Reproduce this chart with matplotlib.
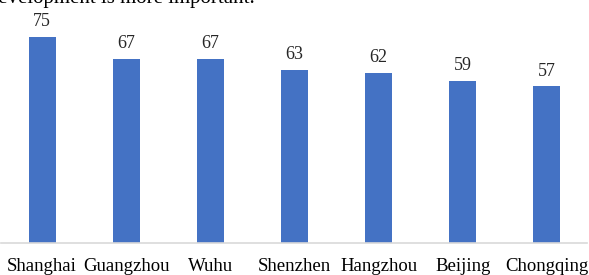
import matplotlib.pyplot as plt

ciudades = ["Shanghai", "Guangzhou", "Wuhu", "Shenzhen", "Hangzhou", "Beijing", "Chongqing"]
valores = [75, 67, 67, 63, 62, 59, 57]
titulo = "Development is more important."

plt.rcParams['font.family'] = ['Liberation Serif', 'DejaVu Serif']

fig = plt.figure(figsize=(5.89, 2.75), dpi=100)
# ejes ocupando casi todo el ancho, base en y=243 px
ax = fig.add_axes([0.0, (275 - 243) / 275, 1.0, 243 / 275])

x = range(len(ciudades))
barras = ax.bar(x, valores, width=0.32, color='#4472C4')
ax.set_xlim(-0.5, len(ciudades) - 0.5)
ax.set_ylim(0, 88.5)

for xi, v in zip(x, valores):
    ax.text(xi, v + 4.0, str(v), ha='center', va='baseline', fontsize=13, color='#262626')

ax.set_xticks(list(x))
ax.set_xticklabels(ciudades, fontsize=13.5, color='black')
ax.tick_params(axis='x', length=0, pad=11)
ax.set_yticks([])
for lado in ['top', 'right', 'left']:
    ax.spines[lado].set_visible(False)
ax.spines['bottom'].set_color('#D9D9D9')
ax.spines['bottom'].set_linewidth(1.2)
ax.spines['bottom'].set_bounds(-0.49, 6.48)

# titulo cortado arriba
fig.text(-17 / 589, 1 - 3 / 275, titulo, ha='left', va='baseline', fontsize=15)

fig.savefig("out.png", dpi=100)
